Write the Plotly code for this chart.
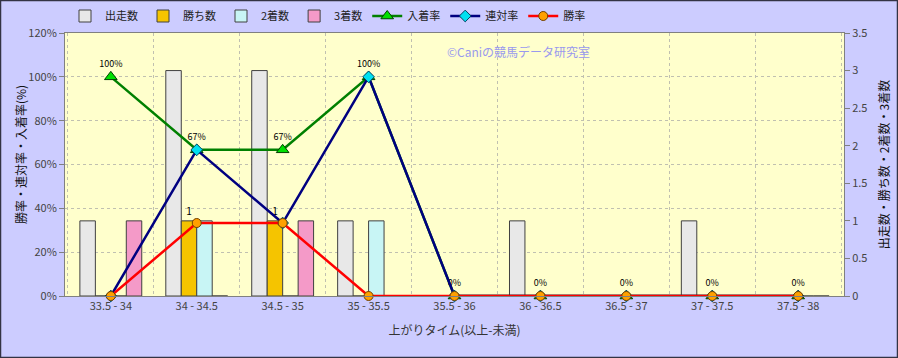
import plotly.graph_objects as go

categories = ["33.5 - 34", "34 - 34.5", "34.5 - 35", "35 - 35.5", "35.5 - 36",
              "36 - 36.5", "36.5 - 37", "37 - 37.5", "37.5 - 38"]
runs = [1, 3, 3, 1, 0, 1, 0, 1, 0]
wins = [0, 1, 1, 0, 0, 0, 0, 0, 0]
seconds = [0, 1, 0, 1, 0, 0, 0, 0, 0]
thirds = [1, 0, 1, 0, 0, 0, 0, 0, 0]
place_rate = [1.0, 0.667, 0.667, 1.0, 0, 0, 0, 0, 0]
quinella_rate = [0, 0.667, 0.333, 1.0, 0, 0, 0, 0, 0]
win_rate = [0, 0.333, 0.333, 0, 0, 0, 0, 0, 0]

FONT = "Noto Sans CJK JP"
fig = go.Figure()

bar_specs = [
    ("出走数", runs, "#E8E8E8"),
    ("勝ち数", wins, "#F5C400"),
    ("2着数", seconds, "#C8F5F5"),
    ("3着数", thirds, "#F49AC8"),
]
for name, vals, col in bar_specs:
    kw = {}
    if name == "勝ち数":
        kw = dict(text=[str(v) if v > 0 else "" for v in vals], textposition="outside",
                  textfont=dict(size=10, color="#000", family=FONT), cliponaxis=False)
    fig.add_trace(go.Bar(name=name, x=categories, y=vals, yaxis="y",
                         marker=dict(color=col, line=dict(color="#404040", width=1)), **kw))

fig.add_trace(go.Scatter(name="入着率", x=categories, y=place_rate, yaxis="y2",
                         mode="lines+markers+text",
                         text=[f"{round(v*100)}%" for v in place_rate],
                         textposition="top center",
                         textfont=dict(size=9, color="#000", family=FONT),
                         line=dict(color="#008000", width=2.5),
                         marker=dict(symbol="triangle-up", size=11, color="#00E000",
                                     line=dict(color="#004000", width=1)),
                         cliponaxis=False))
fig.add_trace(go.Scatter(name="連対率", x=categories, y=quinella_rate, yaxis="y2",
                         mode="lines+markers",
                         line=dict(color="#000080", width=2.5),
                         marker=dict(symbol="diamond", size=9, color="#00E0F0",
                                     line=dict(color="#004060", width=1)),
                         cliponaxis=False))
fig.add_trace(go.Scatter(name="勝率", x=categories, y=win_rate, yaxis="y2",
                         mode="lines+markers",
                         line=dict(color="#FF0000", width=2.5),
                         marker=dict(symbol="circle", size=9, color="#FFA000",
                                     line=dict(color="#704000", width=1)),
                         cliponaxis=False))

pw, ph = 898 - 65 - 54, 358 - 33 - 62
fig.update_layout(
    width=898, height=358,
    margin=dict(l=65, r=54, t=33, b=62, autoexpand=False),
    paper_bgcolor="#CCCCFF", plot_bgcolor="#FFFFCC",
    font=dict(family=FONT, size=11, color="#333333"),
    barmode="group", bargap=0.28, bargroupgap=0,
    showlegend=True,
    legend=dict(orientation="h", x=0.0, y=1 + 17 / ph, xanchor="left", yanchor="middle",
                bgcolor="rgba(0,0,0,0)", font=dict(size=11, color="#222"),
                itemwidth=30, tracegroupgap=0),
    xaxis=dict(type="category", tickson="boundaries", showgrid=True,
               gridcolor="#C0C0B0", griddash="dot", gridwidth=1,
               showline=True, linecolor="#808080", mirror=True, automargin=False,
               ticks="", tickfont=dict(size=11, color="#444"),
               title=dict(text="上がりタイム(以上-未満)", font=dict(size=12, color="#333"), standoff=14)),
    yaxis=dict(side="right", range=[0, 3.5], dtick=0.5, showgrid=False,
               ticks="outside", ticklen=5, tickcolor="#808080", automargin=False,
               tickfont=dict(size=11, color="#444"), zeroline=False,
               showline=True, linecolor="#808080",
               title=dict(text="出走数・勝ち数・2着数・3着数", font=dict(size=12, color="#111"), standoff=14)),
    yaxis2=dict(side="left", overlaying="y", range=[0, 1.2], dtick=0.2, tickformat=".0%",
                showgrid=True, gridcolor="#C0C0B0", griddash="dot", gridwidth=1,
                ticks="outside", ticklen=5, tickcolor="#808080", zeroline=False,
                tickfont=dict(size=11, color="#444"), automargin=False,
                showline=True, linecolor="#808080"),
    annotations=[
        dict(text="©Caniの競馬データ研究室", xref="paper", yref="paper",
             x=(445 - 65) / pw, y=1 - (51 - 33) / ph, xanchor="left", yanchor="middle",
             showarrow=False, font=dict(size=12, color="#9999EE", family=FONT)),
        dict(text="勝率・連対率・入着率(%)", xref="paper", yref="paper",
             x=(20 - 65) / pw, y=1 - (155 - 33) / ph, xanchor="center", yanchor="middle",
             textangle=-90, showarrow=False, font=dict(size=12, color="#111", family=FONT)),
    ],
    shapes=[dict(type="rect", xref="paper", yref="paper",
                 x0=-64.5 / pw, x1=1 + 53.5 / pw, y0=-61.5 / ph, y1=1 + 32.5 / ph,
                 line=dict(color="#333344", width=1.5), fillcolor="rgba(0,0,0,0)", layer="above")],
)

fig.write_html("out.html", config={"displayModeBar": False},
               post_script="document.body.style.margin='0';")
